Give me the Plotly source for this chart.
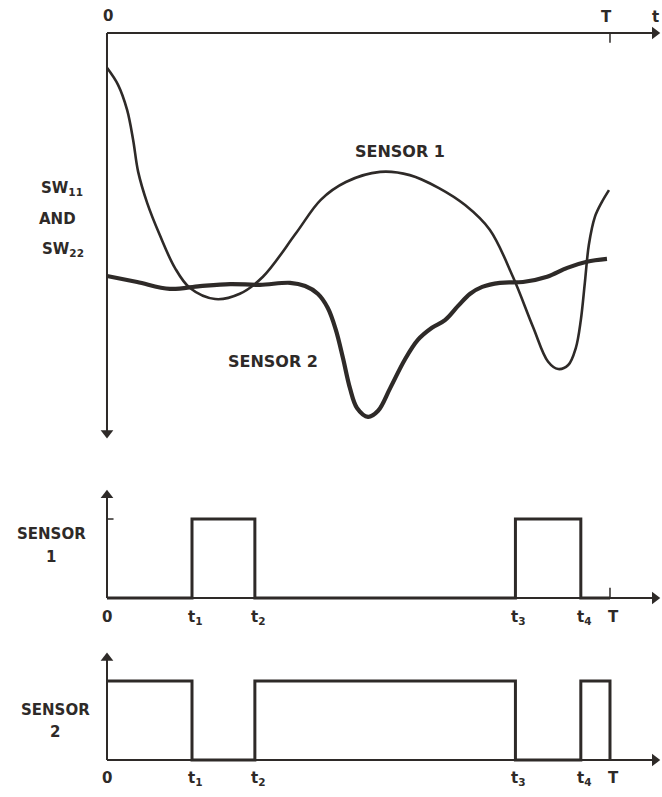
import plotly.graph_objects as go

W, H = 662, 797
INK = "#2e2a28"

# ---- data ----
# Sensor 1 signal SW11 (time 0..T=100, SW units increasing downward)
t_sensor1 = [0, 2.2, 4.0, 5.2, 6.2, 8.0, 10.5, 13.5, 16.5, 21.5, 26.4, 31.0, 37.6, 42.5,
             47.5, 54.3, 60.2, 66.0, 71.2, 76.1, 80.7, 84.7, 87.7, 89.7, 91.7, 93.2,
             94.2, 95.0, 95.8, 97.0, 98.4, 99.8]
sw_sensor1 = [8.6, 12.8, 19.0, 26.4, 34.3, 42.0, 49.9, 58.0, 63.0, 65.7, 64.4, 60.2, 49.4, 41.2,
              36.8, 34.3, 35.1, 38.3, 42.5, 48.6, 60.2, 72.6, 81.2, 83.0, 82.0, 77.8,
              70.9, 61.7, 52.3, 45.4, 41.7, 38.8]
# Sensor 2 signal SW22
t_sensor2 = [0, 6.0, 12.5, 18.5, 24.5, 30.4, 36.4, 39.4, 41.9, 43.9, 45.5, 46.9, 48.3, 49.7,
             51.9, 53.9, 56.3, 59.2, 61.8, 64.6, 67.2, 69.8, 72.2, 74.6, 78.1, 82.7,
             87.5, 91.5, 95.4, 99.4]
sw_sensor2 = [60.0, 61.5, 63.2, 62.5, 62.0, 62.2, 61.7, 62.5, 64.4, 67.9, 73.3, 80.2, 87.7, 92.6,
              94.8, 93.3, 87.7, 80.7, 75.8, 72.8, 70.9, 67.4, 64.4, 62.7, 61.7, 61.5,
              60.2, 58.0, 56.5, 55.8]
# Switching instants and tick labels
event_times = [0, 16.9, 29.4, 81.2, 94.2, 100]
event_labels = ["0", "t<sub>1</sub>", "t<sub>2</sub>", "t<sub>3</sub>", "t<sub>4</sub>", "T"]
sensor1_state = [0, 1, 0, 1, 0, 0]
sensor2_state = [1, 0, 1, 0, 1, 0]

T_END = 100

fig = go.Figure()
fig.add_trace(go.Scatter(x=t_sensor1, y=sw_sensor1, mode="lines", xaxis="x", yaxis="y",
                         line=dict(color=INK, width=2.6, shape="spline", smoothing=1.0)))
fig.add_trace(go.Scatter(x=t_sensor2, y=sw_sensor2, mode="lines", xaxis="x", yaxis="y",
                         line=dict(color=INK, width=4.2, shape="spline", smoothing=1.0)))
fig.add_trace(go.Scatter(x=event_times, y=sensor1_state, mode="lines", xaxis="x", yaxis="y2",
                         line=dict(color=INK, width=3, shape="hv")))
fig.add_trace(go.Scatter(x=event_times, y=sensor2_state, mode="lines", xaxis="x", yaxis="y3",
                         line=dict(color=INK, width=3, shape="hv")))


def arrowhead(x, y, yref, symbol):
    fig.add_trace(go.Scatter(x=[x], y=[y], mode="markers", xaxis="x", yaxis=yref,
                             marker=dict(symbol=symbol, size=11, color=INK, line=dict(width=0))))


shapes = []


def axline(x0, y0, x1, y1, yref, w=2):
    shapes.append(dict(type="line", xref="x", yref=yref, x0=x0, x1=x1, y0=y0, y1=y1,
                       line=dict(color=INK, width=w)))


# top panel axes
axline(0, 0, 108.9, 0, "y")
arrowhead(108.9, 0, "y", "triangle-right")
axline(0, 0, 0, 98.8, "y")
arrowhead(0, 98.8, "y", "triangle-down")
axline(T_END, 0, T_END, 2.4, "y", 1.5)
# sensor 1 panel axes
axline(0, 0, 108.9, 0, "y2")
arrowhead(108.9, 0, "y2", "triangle-right")
axline(0, 0, 0, 1.30, "y2")
arrowhead(0, 1.30, "y2", "triangle-up")
axline(T_END, 0, T_END, 0.13, "y2", 1.5)
axline(0, 1, 1.3, 1, "y2", 1.5)
# sensor 2 panel axes
axline(0, 0, 108.9, 0, "y3")
arrowhead(108.9, 0, "y3", "triangle-right")
axline(0, 0, 0, 1.29, "y3")
arrowhead(0, 1.29, "y3", "triangle-up")


def px(x):
    return x / W


def py(y):
    return 1 - y / H


ann = []
FONT = dict(family="DejaVu Sans", size=15, color=INK, weight="bold")


def label(x, y, text, size=15):
    f = dict(FONT)
    f["size"] = size
    ann.append(dict(x=px(x), y=py(y), xref="paper", yref="paper", text=text, showarrow=False,
                    xanchor="center", yanchor="middle", font=f))


label(108, 16, "0")
label(606, 17, "T")
label(655, 17, "t")
label(400, 152, "SENSOR 1", 16)
label(273, 361, "SENSOR 2", 16)
label(62, 189, "SW<sub>11</sub>")
label(57, 219, "AND")
label(63, 250, "SW<sub>22</sub>")
label(51, 534, "SENSOR")
label(51, 557, "1")
label(55, 710, "SENSOR")
label(55, 732, "2")

for tt, lab in zip(event_times, event_labels):
    xpix = 107 + tt * 5.03
    off = 3 if tt > 0 else 0
    label(xpix + off, 617, lab)
    label(xpix + off, 778, lab)

noax = dict(showgrid=False, zeroline=False, showticklabels=False, showline=False, ticks="")
fig.update_layout(
    width=W, height=H, autosize=False,
    margin=dict(l=0, r=0, t=0, b=0),
    paper_bgcolor="white", plot_bgcolor="white",
    showlegend=False,
    xaxis=dict(domain=[0, 1], range=[-21.27, 110.34], **noax),
    yaxis=dict(domain=[1 - 478 / H, 1], range=[109.9, -8.15], **noax),
    yaxis2=dict(domain=[1 - 640 / H, 1 - 480 / H], range=[-0.532, 1.494], anchor="x", **noax),
    yaxis3=dict(domain=[0, 1 - 640 / H], range=[-0.468, 1.519], anchor="x", **noax),
    annotations=ann,
    shapes=shapes,
)

fig.write_html("out.html")
